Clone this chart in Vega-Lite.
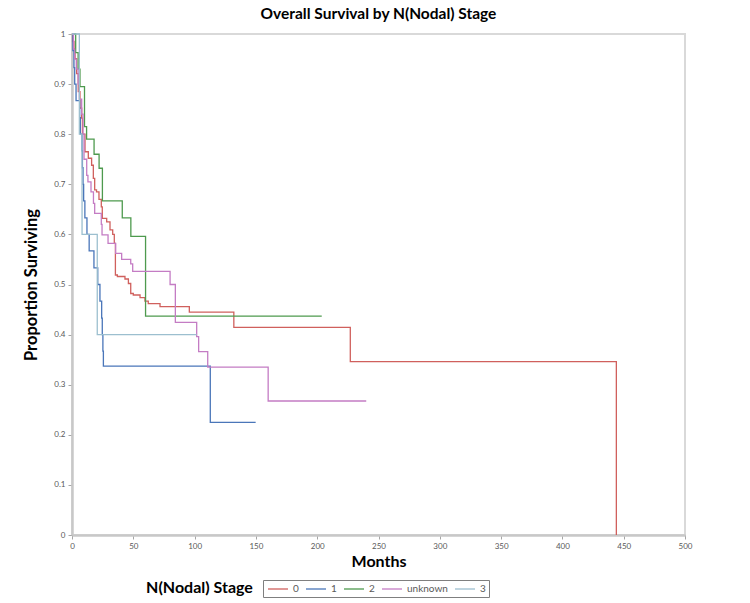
{
  "$schema": "https://vega.github.io/schema/vega-lite/v6.json",
  "width": 613,
  "height": 501,
  "autosize": {"type": "none"},
  "padding": {"left": 72, "top": 34, "right": 65, "bottom": 68},
  "background": "white",
  "title": {"text": "Overall Survival by N(Nodal) Stage", "font": "Lato", "fontSize": 15.5, "fontWeight": "bold", "color": "#000000", "offset": 8, "anchor": "middle"},
  "config": {"view": {"stroke": "#d9d9d9", "strokeWidth": 2}, "font": "Lato"},
  "layer": [
    {
      "data": {"values": [
        {"g": "0", "t": 0, "s": 1}, {"g": "0", "t": 0.5, "s": 0.985}, {"g": "0", "t": 1.6, "s": 0.97}, {"g": "0", "t": 2.5, "s": 0.951}, {"g": "0", "t": 3.8, "s": 0.921}, {"g": "0", "t": 5.1, "s": 0.885}, {"g": "0", "t": 6.5, "s": 0.852}, {"g": "0", "t": 7.9, "s": 0.832}, {"g": "0", "t": 8.5, "s": 0.8}, {"g": "0", "t": 10.6, "s": 0.765}, {"g": "0", "t": 13.3, "s": 0.752}, {"g": "0", "t": 16, "s": 0.738}, {"g": "0", "t": 17.4, "s": 0.712}, {"g": "0", "t": 18.5, "s": 0.689}, {"g": "0", "t": 20, "s": 0.685}, {"g": "0", "t": 22, "s": 0.67}, {"g": "0", "t": 23.9, "s": 0.655}, {"g": "0", "t": 24.7, "s": 0.632}, {"g": "0", "t": 28.3, "s": 0.625}, {"g": "0", "t": 31, "s": 0.609}, {"g": "0", "t": 33.2, "s": 0.6}, {"g": "0", "t": 34.5, "s": 0.582}, {"g": "0", "t": 35.4, "s": 0.519}, {"g": "0", "t": 37, "s": 0.516}, {"g": "0", "t": 43.2, "s": 0.511}, {"g": "0", "t": 46, "s": 0.502}, {"g": "0", "t": 47.9, "s": 0.482}, {"g": "0", "t": 50, "s": 0.479}, {"g": "0", "t": 55.5, "s": 0.474}, {"g": "0", "t": 59.5, "s": 0.467}, {"g": "0", "t": 62.2, "s": 0.462}, {"g": "0", "t": 71.8, "s": 0.456}, {"g": "0", "t": 95.7, "s": 0.445}, {"g": "0", "t": 132, "s": 0.4146}, {"g": "0", "t": 227, "s": 0.346}, {"g": "0", "t": 444, "s": 0},
        {"g": "1", "t": 0, "s": 1}, {"g": "1", "t": 0.7, "s": 0.967}, {"g": "1", "t": 1.6, "s": 0.933}, {"g": "1", "t": 2.2, "s": 0.9}, {"g": "1", "t": 3.3, "s": 0.867}, {"g": "1", "t": 6.3, "s": 0.833}, {"g": "1", "t": 6.8, "s": 0.8}, {"g": "1", "t": 8.2, "s": 0.767}, {"g": "1", "t": 8.5, "s": 0.733}, {"g": "1", "t": 9, "s": 0.7}, {"g": "1", "t": 9.5, "s": 0.667}, {"g": "1", "t": 10.5, "s": 0.633}, {"g": "1", "t": 12.2, "s": 0.6}, {"g": "1", "t": 14, "s": 0.567}, {"g": "1", "t": 17.9, "s": 0.533}, {"g": "1", "t": 21, "s": 0.5}, {"g": "1", "t": 22.8, "s": 0.467}, {"g": "1", "t": 24.2, "s": 0.433}, {"g": "1", "t": 24.7, "s": 0.4}, {"g": "1", "t": 25.2, "s": 0.367}, {"g": "1", "t": 25.6, "s": 0.337}, {"g": "1", "t": 112.8, "s": 0.225}, {"g": "1", "t": 149.8, "s": 0.225},
        {"g": "2", "t": 0, "s": 1}, {"g": "2", "t": 3, "s": 0.963}, {"g": "2", "t": 5, "s": 0.93}, {"g": "2", "t": 6.5, "s": 0.895}, {"g": "2", "t": 10.2, "s": 0.815}, {"g": "2", "t": 11.9, "s": 0.79}, {"g": "2", "t": 18, "s": 0.76}, {"g": "2", "t": 22.1, "s": 0.732}, {"g": "2", "t": 24.8, "s": 0.667}, {"g": "2", "t": 41, "s": 0.633}, {"g": "2", "t": 48, "s": 0.596}, {"g": "2", "t": 60, "s": 0.437}, {"g": "2", "t": 203.7, "s": 0.437},
        {"g": "unknown", "t": 0, "s": 1}, {"g": "unknown", "t": 1.2, "s": 0.97}, {"g": "unknown", "t": 2.2, "s": 0.95}, {"g": "unknown", "t": 3.5, "s": 0.93}, {"g": "unknown", "t": 5, "s": 0.9}, {"g": "unknown", "t": 6, "s": 0.87}, {"g": "unknown", "t": 7.9, "s": 0.84}, {"g": "unknown", "t": 9, "s": 0.8}, {"g": "unknown", "t": 9.8, "s": 0.75}, {"g": "unknown", "t": 12, "s": 0.718}, {"g": "unknown", "t": 13, "s": 0.705}, {"g": "unknown", "t": 15.5, "s": 0.685}, {"g": "unknown", "t": 17.5, "s": 0.662}, {"g": "unknown", "t": 18.5, "s": 0.642}, {"g": "unknown", "t": 23.9, "s": 0.62}, {"g": "unknown", "t": 24.5, "s": 0.599}, {"g": "unknown", "t": 29.4, "s": 0.582}, {"g": "unknown", "t": 35.6, "s": 0.562}, {"g": "unknown", "t": 40.5, "s": 0.55}, {"g": "unknown", "t": 47.9, "s": 0.541}, {"g": "unknown", "t": 49.5, "s": 0.526}, {"g": "unknown", "t": 80, "s": 0.5}, {"g": "unknown", "t": 84.3, "s": 0.4245}, {"g": "unknown", "t": 101.7, "s": 0.396}, {"g": "unknown", "t": 103.3, "s": 0.366}, {"g": "unknown", "t": 110.7, "s": 0.335}, {"g": "unknown", "t": 160, "s": 0.2675}, {"g": "unknown", "t": 240, "s": 0.2675},
        {"g": "3", "t": 0, "s": 1}, {"g": "3", "t": 6, "s": 0.8}, {"g": "3", "t": 8.2, "s": 0.6}, {"g": "3", "t": 20.6, "s": 0.4}, {"g": "3", "t": 101.7, "s": 0.4}
      ]},
      "mark": {"type": "line", "interpolate": "step-after"},
      "encoding": {
        "x": {"field": "t", "type": "quantitative", "scale": {"domain": [0, 500], "nice": false},
          "axis": {"values": [0, 50, 100, 150, 200, 250, 300, 350, 400, 450, 500], "grid": false, "labelFontSize": 8, "labelColor": "#595959", "labelPadding": 3, "labelFlush": false, "domainColor": "#c8c8c8", "domainWidth": 2.5, "tickColor": "#a6a6a6", "tickSize": 4, "title": "Months", "titleFontSize": 16, "titleFontWeight": "bold", "titleColor": "#000000", "titlePadding": 3}},
        "y": {"field": "s", "type": "quantitative", "scale": {"domain": [0, 1], "nice": false},
          "axis": {"values": [0, 0.1, 0.2, 0.3, 0.4, 0.5, 0.6, 0.7, 0.8, 0.9, 1], "format": "~g", "grid": false, "labelFontSize": 8, "labelColor": "#595959", "labelPadding": 3, "labelFlush": false, "domainColor": "#c8c8c8", "domainWidth": 2.5, "tickColor": "#a6a6a6", "tickSize": 4, "title": "Proportion Surviving", "titleFontSize": 16.5, "titleFontWeight": "bold", "titleColor": "#000000", "titlePadding": 14}},
        "color": {"field": "g", "type": "nominal",
          "scale": {"domain": ["0", "1", "2", "unknown", "3"], "range": ["#d0605d", "#4a76b9", "#4e9a4e", "#c47cc4", "#9cbfcf"]},
          "legend": {"orient": "none", "legendX": 191, "legendY": 546, "direction": "horizontal", "title": null, "strokeColor": "#7f7f7f", "padding": 3, "symbolType": "M-2,0H2", "symbolSize": 100, "symbolStrokeWidth": 1.5, "symbolOffset": 6, "labelFontSize": 10, "labelColor": "#595959", "labelOffset": 9, "columnPadding": 4}},
        "strokeWidth": {"field": "g", "type": "nominal",
          "scale": {"domain": ["0", "1", "2", "unknown", "3"], "range": [1.3, 1.3, 1.3, 1.7, 2]},
          "legend": null}
      }
    },
    {
      "data": {"values": [{"t": 0}]},
      "mark": {"type": "rule", "opacity": 0},
      "encoding": {
        "x": {"field": "t", "type": "quantitative",
          "axis": {"orient": "bottom", "domain": false, "ticks": false, "labels": false, "grid": false, "title": "N(Nodal) Stage", "titleFontSize": 16, "titleFontWeight": "bold", "titleColor": "#000000", "titleX": 127, "titleY": 52, "titleAlign": "center", "titleBaseline": "middle"}}
      }
    }
  ],
  "resolve": {"axis": {"x": "independent"}}
}
